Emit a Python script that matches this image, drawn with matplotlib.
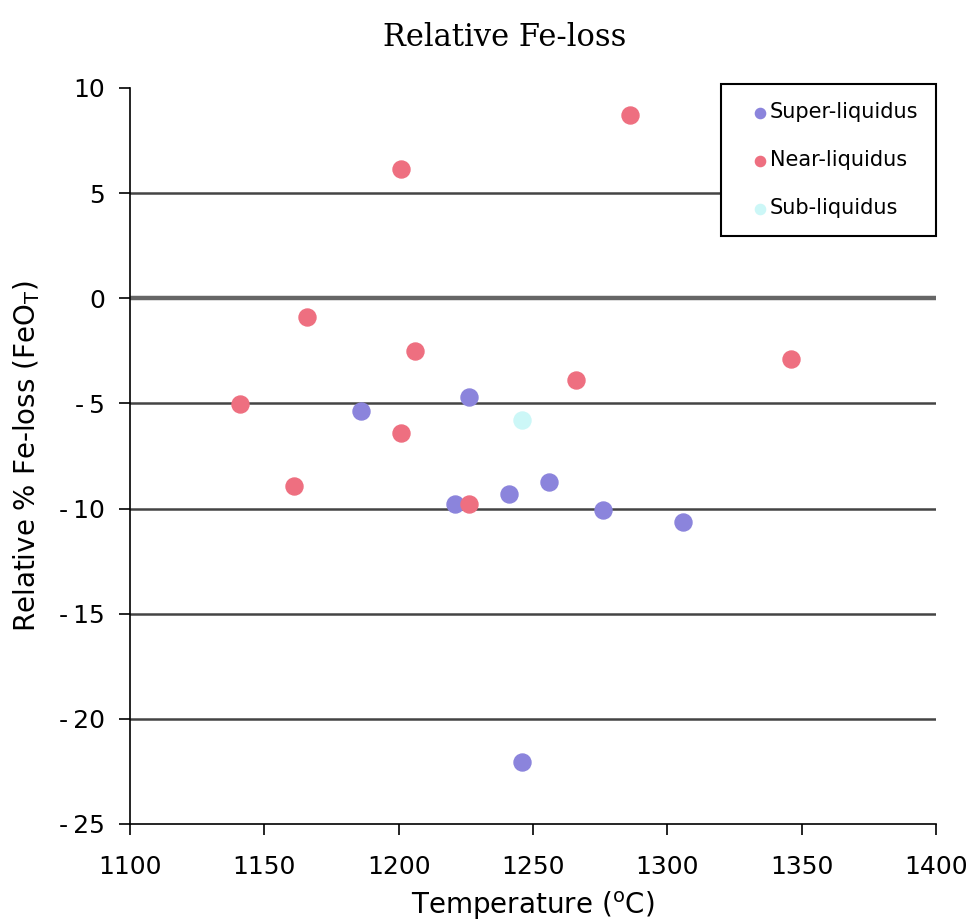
import matplotlib
matplotlib.use("Agg")
import matplotlib.pyplot as plt

super_t = [1186, 1226, 1221, 1241, 1256, 1276, 1306, 1246]
super_loss = [-5.35, -4.7, -9.8, -9.3, -8.75, -10.05, -10.65, -22.05]

near_t = [1201, 1286, 1166, 1206, 1141, 1161, 1201, 1226, 1266, 1346]
near_loss = [6.15, 8.7, -0.9, -2.5, -5.05, -8.95, -6.4, -9.8, -3.9, -2.9]

sub_t = [1246]
sub_loss = [-5.8]

fig = plt.figure(figsize=(9.73, 9.22), dpi=100)
ax = fig.add_axes([0.1336, 0.1063, 0.8284, 0.7983])

for y in [5, -5, -10, -15, -20]:
    ax.axhline(y, color="#444444", lw=1.8, zorder=1)
ax.axhline(0, color="#666666", lw=3.2, zorder=1)

ax.scatter(super_t, super_loss, s=150, color="#8b84dc", label="Super-liquidus", zorder=3)
ax.scatter(near_t, near_loss, s=150, color="#ee6f80", label="Near-liquidus", zorder=3)
ax.scatter(sub_t, sub_loss, s=150, color="#ccf7f7", label="Sub-liquidus", zorder=3)

ax.set_xlim(1100, 1400)
ax.set_ylim(-25, 10)
ax.set_xticks(range(1100, 1401, 50))
ax.set_yticks(range(-25, 11, 5))
ax.set_yticklabels([str(v).replace("-", "-\u2009") for v in range(-25, 11, 5)])
ax.tick_params(labelsize=18, length=8, width=1.2)
ax.tick_params(axis="y", pad=10)
ax.tick_params(axis="x", pad=14)
ax.spines["top"].set_visible(False)
ax.spines["right"].set_visible(False)
ax.spines["left"].set_linewidth(1.2)
ax.spines["bottom"].set_linewidth(1.2)

ax.set_xlabel("Temperature ($^{\\mathrm{o}}$C)", fontsize=20, labelpad=8)
ax.set_ylabel("Relative % Fe-loss (FeO$_\\mathrm{T}$)", fontsize=20, labelpad=12)
ax.set_title("Relative Fe-loss", fontsize=22, family="DejaVu Serif", pad=30, x=0.465)

leg = ax.legend(loc="upper right", bbox_to_anchor=(1.0, 1.005), fontsize=15,
                frameon=True, fancybox=False, framealpha=1, markerscale=0.6,
                handletextpad=-0.6, labelspacing=1.35, borderpad=0.85,
                borderaxespad=0, handlelength=2.1)
leg.get_frame().set_edgecolor("black")
leg.get_frame().set_linewidth(1.5)

fig.savefig("out.png", dpi=100)
